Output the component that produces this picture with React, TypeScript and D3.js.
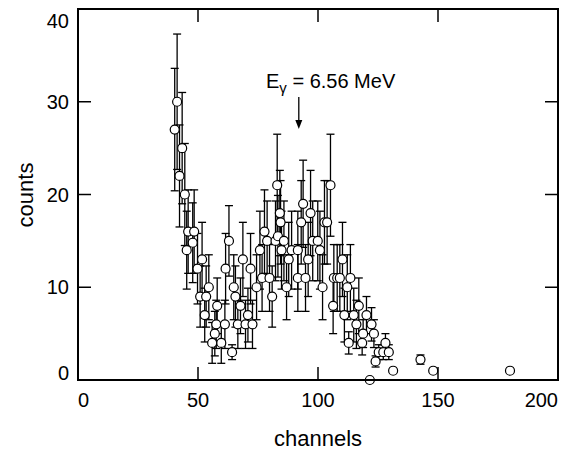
import React, { useEffect } from "react";
import * as d3 from "d3";

// spectrum: channel, counts, error (half-length)
const channels = [
  40.3, 41.3, 42.3, 43.4, 44.5, 45.3, 45.9, 47.8, 48.4, 49.8, 50.9, 51.7, 52.8, 53.4, 54.5,
  55.9, 57.0, 57.6, 58.0, 59.7, 61.2, 61.5, 62.9, 64.2, 64.9, 65.6, 66.6, 67.7, 68.7, 69.8,
  70.8, 71.9, 72.7, 74.4, 75.8, 76.7, 77.7, 78.8, 79.8, 80.9, 82.3, 83.0, 83.3, 84.1, 84.4,
  84.8, 85.8, 86.9, 87.8, 89.0, 91.6, 91.6, 93.0, 93.8, 94.8, 95.9, 96.9, 97.8, 99.9, 100.8,
  101.9, 102.7, 103.8, 105.2, 106.3, 106.6, 108.0, 109.1, 110.2, 111.0, 112.2, 112.8, 113.5, 114.9, 116.0,
  117.0, 118.4, 118.8, 120.2, 121.6, 122.3, 123.3, 124.0, 125.3, 127.2, 128.1, 129.5, 131.3, 142.7, 148.0,
  180.0,
];
const counts = [
  27, 30, 22, 25, 20, 14, 16, 14.8, 16, 12, 9, 13, 7, 9, 10,
  4, 5, 6, 8, 4, 6, 12, 15, 3, 10, 9, 6, 8, 13, 6,
  7, 12, 6, 10, 14, 11, 16, 15, 11, 9, 15, 21, 15.5, 18, 17,
  14, 15, 10, 13, 14, 14, 11, 17, 19, 11, 13, 18, 15, 15, 14,
  10, 17, 17, 21, 8, 11, 11, 11, 13, 7, 10, 4, 11, 7, 6,
  8, 4, 5, 7, 0, 6, 5, 2, 3, 3, 4, 3, 1, 2.2, 1,
  1,
];
const errors = [
  6.6, 7.3, 5.5, 6.0, 5.5, 4.2, 4.5, 4.3, 4.5, 3.8, 3.3, 4.0, 2.9, 3.3, 3.5,
  2.2, 2.4, 2.6, 3.0, 2.2, 2.6, 3.8, 3.8, 0.8, 3.5, 3.3, 2.6, 3.0, 4.0, 2.6,
  2.9, 3.8, 2.6, 3.5, 4.2, 3.6, 4.5, 4.3, 3.6, 3.3, 4.3, 5.5, 4.4, 4.6, 4.5,
  4.2, 4.3, 3.5, 4.0, 4.2, 4.2, 3.6, 4.5, 4.7, 3.6, 4.0, 4.6, 4.3, 4.3, 4.2,
  3.5, 4.5, 4.5, 5.5, 3.0, 3.6, 3.6, 3.6, 4.0, 2.9, 3.5, 1.2, 3.6, 2.9, 2.6,
  3.0, 1.3, 1.5, 2.0, 0, 1.8, 1.5, 0.6, 0.8, 0.8, 1.0, 0.8, 0, 0.5, 0,
  0,
];

const xTicks = [0, 50, 100, 150, 200];
const yTicks = [0, 10, 20, 30, 40];

const W = 570;
const H = 458;
const FONT = "'Liberation Sans', Arial, Helvetica, sans-serif";

export default function App() {
  useEffect(() => {
    document.body.style.margin = "0";
  }, []);

  const x = d3.scaleLinear().domain([0, 200]).range([78, 558]);
  const y = d3.scaleLinear().domain([0, 40]).range([380, 9]);
  const [x0, x1] = x.range();
  const [y0, y1] = y.range();
  const tickLen = 13;

  const points = channels.map((c, i) => ({ c, v: counts[i], e: errors[i] }));

  // end labels are pulled inside the frame like in the original
  const yLabelPos = (v: number) => Math.min(Math.max(y(v), y1 + 12), y0 - 7);

  return (
    <svg width={W} height={H} style={{ display: "block", background: "#fff" }} fontFamily={FONT}>
      {/* error bars */}
      <g stroke="#000" strokeWidth={1.3}>
        {points.filter(p => p.e > 0).map((p, i) => (
          <g key={i}>
            <line x1={x(p.c)} x2={x(p.c)} y1={y(p.v - p.e)} y2={y(p.v + p.e)} />
            <line x1={x(p.c) - 4} x2={x(p.c) + 4} y1={y(p.v - p.e)} y2={y(p.v - p.e)} />
            <line x1={x(p.c) - 4} x2={x(p.c) + 4} y1={y(p.v + p.e)} y2={y(p.v + p.e)} />
          </g>
        ))}
      </g>
      {/* markers */}
      <g fill="#fff" stroke="#000" strokeWidth={1.2}>
        {points.map((p, i) => (
          <circle key={i} cx={x(p.c)} cy={y(p.v)} r={4.5} />
        ))}
      </g>

      {/* frame and ticks */}
      <rect x={x0} y={y1} width={x1 - x0} height={y0 - y1} fill="none" stroke="#000" strokeWidth={2} />
      <g stroke="#000" strokeWidth={1.5}>
        {xTicks.map(t => (
          <g key={"xt" + t}>
            <line x1={x(t)} x2={x(t)} y1={y0} y2={y0 - tickLen} />
            <line x1={x(t)} x2={x(t)} y1={y1} y2={y1 + tickLen} />
          </g>
        ))}
        {yTicks.map(t => (
          <g key={"yt" + t}>
            <line x1={x0} x2={x0 + tickLen} y1={y(t)} y2={y(t)} />
            <line x1={x1} x2={x1 - tickLen} y1={y(t)} y2={y(t)} />
          </g>
        ))}
      </g>

      {/* tick labels */}
      <g fontSize={20} fill="#000">
        {xTicks.map((t, i) => (
          <text
            key={"xl" + t}
            x={i === 0 ? x0 : i === xTicks.length - 1 ? x1 : x(t)}
            y={407}
            textAnchor={i === 0 ? "start" : i === xTicks.length - 1 ? "end" : "middle"}
          >
            {t}
          </text>
        ))}
        {yTicks.map(t => (
          <text key={"yl" + t} x={69} y={yLabelPos(t)} dy="0.35em" textAnchor="end">
            {t}
          </text>
        ))}
      </g>

      {/* axis titles */}
      <text x={318} y={446} fontSize={22} textAnchor="middle">channels</text>
      <text transform="translate(33,195) rotate(-90)" fontSize={22} textAnchor="middle">counts</text>

      {/* annotation */}
      <text x={266} y={88} fontSize={20}>
        E<tspan fontSize={15} dy={5}>γ</tspan>
        <tspan dy={-5}> = 6.56 MeV</tspan>
      </text>
      <line x1={x(92)} x2={x(92)} y1={97} y2={122} stroke="#000" strokeWidth={1.3} />
      <path
        d={`M${x(92) - 3.5},${120} L${x(92) + 3.5},${120} L${x(92)},${129} Z`}
        fill="#000"
      />
    </svg>
  );
}
